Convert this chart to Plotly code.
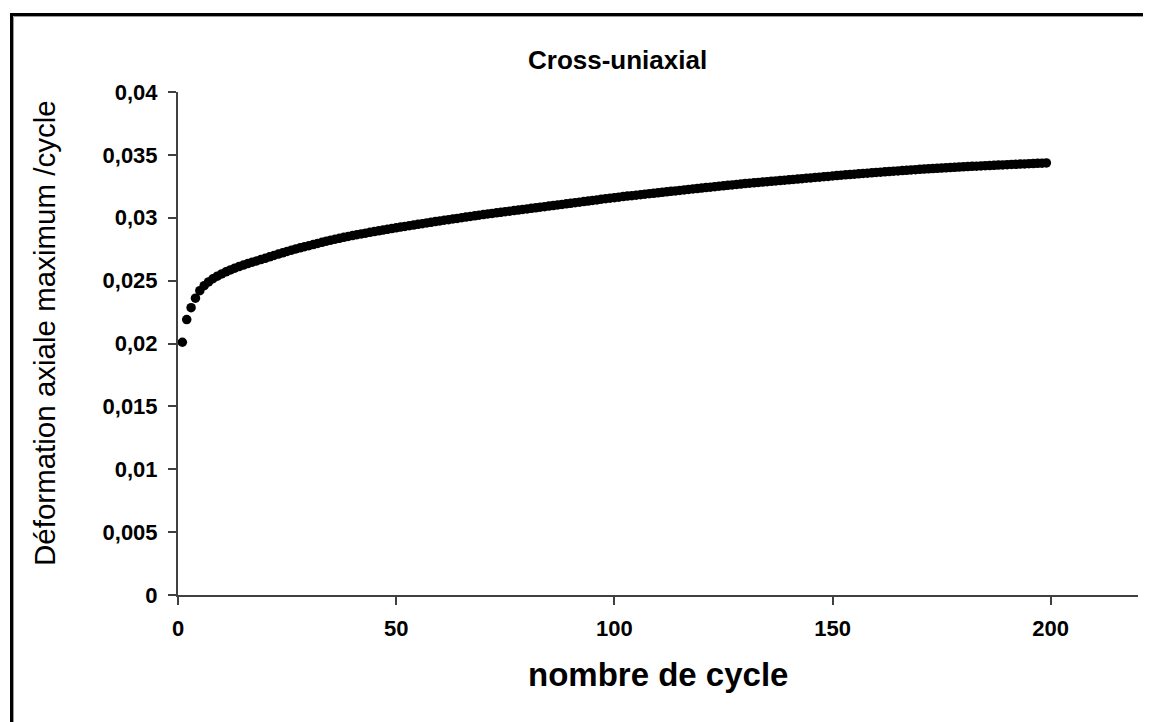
import plotly.graph_objects as go

cycles = list(range(1, 200))
deformation = [
    0.02010, 0.02190, 0.02285, 0.02360, 0.02420, 0.02460, 0.02490, 0.02515, 0.02535, 0.02553,
    0.02570, 0.02585, 0.02599, 0.02612, 0.02624, 0.02636, 0.02647, 0.02657, 0.02667, 0.02677,
    0.02689, 0.02700, 0.02711, 0.02721, 0.02732, 0.02742, 0.02752, 0.02761, 0.02770, 0.02778,
    0.02787, 0.02796, 0.02805, 0.02814, 0.02822, 0.02829, 0.02836, 0.02844, 0.02851, 0.02858,
    0.02865, 0.02871, 0.02877, 0.02884, 0.02890, 0.02896, 0.02902, 0.02908, 0.02914, 0.02920,
    0.02926, 0.02931, 0.02937, 0.02942, 0.02948, 0.02953, 0.02959, 0.02964, 0.02970, 0.02975,
    0.02980, 0.02985, 0.02990, 0.02995, 0.03000, 0.03005, 0.03010, 0.03015, 0.03020, 0.03025,
    0.03030, 0.03034, 0.03039, 0.03043, 0.03048, 0.03052, 0.03057, 0.03061, 0.03066, 0.03070,
    0.03075, 0.03079, 0.03084, 0.03088, 0.03093, 0.03097, 0.03102, 0.03106, 0.03111, 0.03115,
    0.03120, 0.03124, 0.03129, 0.03133, 0.03138, 0.03142, 0.03147, 0.03151, 0.03156, 0.03160,
    0.03164, 0.03168, 0.03172, 0.03175, 0.03179, 0.03183, 0.03187, 0.03191, 0.03194, 0.03198,
    0.03202, 0.03206, 0.03210, 0.03213, 0.03217, 0.03221, 0.03225, 0.03229, 0.03232, 0.03236,
    0.03240, 0.03243, 0.03247, 0.03251, 0.03254, 0.03258, 0.03261, 0.03265, 0.03268, 0.03272,
    0.03275, 0.03278, 0.03281, 0.03284, 0.03287, 0.03290, 0.03293, 0.03296, 0.03299, 0.03302,
    0.03305, 0.03308, 0.03311, 0.03314, 0.03317, 0.03320, 0.03323, 0.03326, 0.03329, 0.03332,
    0.03335, 0.03338, 0.03341, 0.03343, 0.03346, 0.03349, 0.03352, 0.03354, 0.03357, 0.03360,
    0.03362, 0.03365, 0.03367, 0.03370, 0.03372, 0.03375, 0.03377, 0.03380, 0.03382, 0.03385,
    0.03387, 0.03389, 0.03391, 0.03393, 0.03395, 0.03397, 0.03399, 0.03401, 0.03403, 0.03405,
    0.03407, 0.03409, 0.03410, 0.03412, 0.03414, 0.03415, 0.03417, 0.03419, 0.03420, 0.03422,
    0.03424, 0.03425, 0.03427, 0.03428, 0.03430, 0.03431, 0.03433, 0.03434, 0.03436,
]

x_tick_vals = [0, 50, 100, 150, 200]
x_tick_text = ["0", "50", "100", "150", "200"]
y_tick_vals = [0, 0.005, 0.01, 0.015, 0.02, 0.025, 0.03, 0.035, 0.04]
y_tick_text = ["0", "0,005", "0,01", "0,015", "0,02", "0,025", "0,03", "0,035", "0,04"]

title_text = "Cross-uniaxial"
x_title = "nombre de cycle"
y_title = "Déformation axiale maximum /cycle"

FONT = "Liberation Sans"
OFF = 8  # default body margin of the html page
W, H = 1151 - OFF, 722 - OFF
# plot area in page pixels: x 178..1138, y 92..595
L, R = 178 - OFF, 1151 - 1138
T, B = 92 - OFF, 722 - 595
pw, ph = W - L - R, H - T - B


def px(x_page):
    return (x_page - OFF - L) / pw


def py(y_page):
    return (T + ph - (y_page - OFF)) / ph


fig = go.Figure()
fig.add_trace(go.Scatter(
    x=cycles, y=deformation, mode="markers",
    marker=dict(color="black", size=9.5, line=dict(width=0)),
    showlegend=False, hoverinfo="x+y",
))

axis_color = "#404040"
fig.update_xaxes(
    range=[0, 220], tickmode="array", tickvals=x_tick_vals, ticktext=x_tick_text,
    showline=True, linecolor=axis_color, linewidth=2, ticks="outside", ticklen=8,
    tickwidth=2, tickcolor=axis_color, showgrid=False, zeroline=False,
    tickfont=dict(family=FONT, size=22, color="black", weight="bold"),
    ticklabelstandoff=5,
)
fig.update_yaxes(
    range=[0, 0.04], tickmode="array", tickvals=y_tick_vals, ticktext=y_tick_text,
    showline=True, linecolor=axis_color, linewidth=2, ticks="outside", ticklen=8,
    tickwidth=2, tickcolor=axis_color, showgrid=False, zeroline=False,
    tickfont=dict(family=FONT, size=22, color="black", weight="bold"),
    ticklabelstandoff=6,
)

fig.add_annotation(
    text=title_text, xref="paper", yref="paper", x=px(617), y=py(60),
    xanchor="center", yanchor="middle", showarrow=False,
    font=dict(family=FONT, size=26, color="black", weight="bold"),
)
fig.add_annotation(
    text=x_title, xref="paper", yref="paper", x=px(658), y=py(674),
    xanchor="center", yanchor="middle", showarrow=False,
    font=dict(family=FONT, size=33, color="black", weight="bold"),
)
fig.add_annotation(
    text=y_title, xref="paper", yref="paper", x=px(44), y=py(333),
    xanchor="center", yanchor="middle", showarrow=False, textangle=-90,
    font=dict(family=FONT, size=29.5, color="black"),
)

# outer chart frame (with a light shadow line inside)
fig.add_shape(
    type="rect", xref="paper", yref="paper",
    x0=px(13.5), y0=py(760), x1=px(1180), y1=py(16.5),
    line=dict(color="#9a9a9a", width=1), fillcolor="rgba(0,0,0,0)", layer="above",
)
fig.add_shape(
    type="rect", xref="paper", yref="paper",
    x0=px(11.5), y0=py(760), x1=px(1180), y1=py(14.5),
    line=dict(color="black", width=3), fillcolor="rgba(0,0,0,0)", layer="above",
)

fig.update_layout(
    width=W, height=H, autosize=False,
    margin=dict(l=L, r=R, t=T, b=B, pad=0),
    paper_bgcolor="white", plot_bgcolor="white",
    font=dict(family=FONT, color="black"),
)

fig.write_html("out.html")
